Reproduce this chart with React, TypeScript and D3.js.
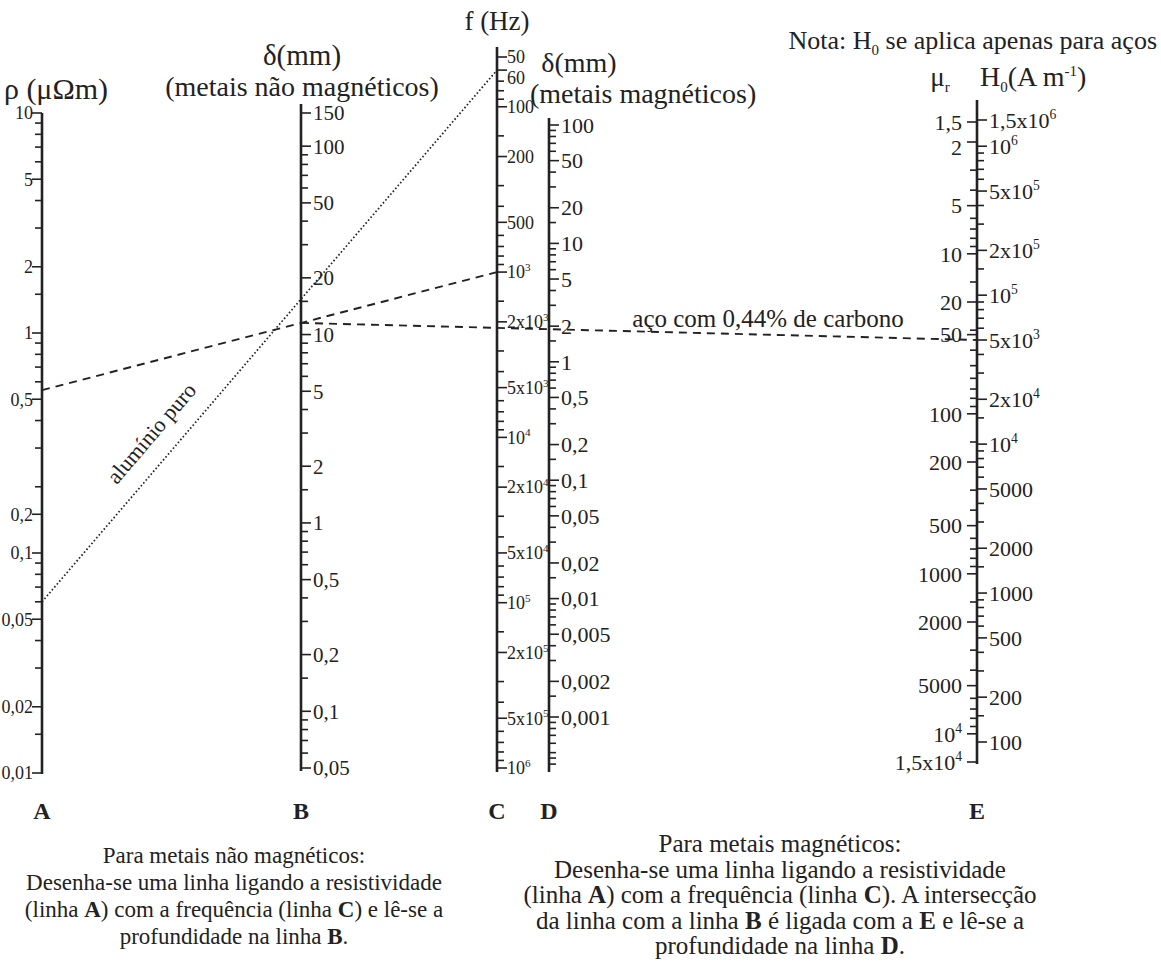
import React from 'react';
import * as d3 from 'd3';

// ---- data ----
const rhoValues = [10, 5, 2, 1, 0.5, 0.15, 0.1, 0.05, 0.02, 0.01];
const rhoLabels = ['10', '5', '2', '1', '0,5', '0,2', '0,1', '0,05', '0,02', '0,01'];

const deltaNmValues = [150, 100, 50, 20, 10, 5, 2, 1, 0.5, 0.2, 0.1, 0.05];
const deltaNmLabels = ['150', '100', '50', '20', '10', '5', '2', '1', '0,5', '0,2', '0,1', '0,05'];

const freqValues = [50, 60, 100, 200, 500, 1e3, 2e3, 5e3, 1e4, 2e4, 5e4, 1e5, 2e5, 5e5, 1e6];
const freqLabels = ['50', '60', '100', '200', '500', '10^3', '2x10^3', '5x10^3', '10^4', '2x10^4', '5x10^4', '10^5', '2x10^5', '5x10^5', '10^6'];

const deltaMValues = [100, 50, 20, 10, 5, 2, 1, 0.5, 0.2, 0.1, 0.05, 0.02, 0.01, 0.005, 0.002, 0.001];
const deltaMLabels = ['100', '50', '20', '10', '5', '2', '1', '0,5', '0,2', '0,1', '0,05', '0,02', '0,01', '0,005', '0,002', '0,001'];
const deltaMTail = [0.0009, 0.0008, 0.0007, 0.0006, 0.0005, 0.00045, 0.0004];

const muValues = [1.5, 2, 5, 10, 20, 32, 100, 200, 500, 1000, 2000, 5000, 1e4, 1.5e4];
const muLabels = ['1,5', '2', '5', '10', '20', '50', '100', '200', '500', '1000', '2000', '5000', '10^4', '1,5x10^4'];

const h0Values = [1.5e6, 1e6, 5e5, 2e5, 1e5, 5e4, 2e4, 1e4, 5000, 2000, 1000, 500, 200, 100];
const h0Labels = ['1,5x10^6', '10^6', '5x10^5', '2x10^5', '10^5', '5x10^3', '2x10^4', '10^4', '5000', '2000', '1000', '500', '200', '100'];

// worked examples
const aluminio = { rho: 0.06, f: 60 };
const aco = { rho: 0.55, f: 1000, h0: 5e4 };

const leftNote = [
  [['Para metais não magnéticos:', false]],
  [['Desenha-se uma linha ligando a resistividade', false]],
  [['(linha ', false], ['A', true], [') com a frequência (linha ', false], ['C', true], [') e lê-se a', false]],
  [['profundidade na linha ', false], ['B', true], ['.', false]],
];
const rightNote = [
  [['Para metais magnéticos:', false]],
  [['Desenha-se uma linha ligando a resistividade', false]],
  [['(linha ', false], ['A', true], [') com a frequência (linha ', false], ['C', true], ['). A intersecção', false]],
  [['da linha com a linha ', false], ['B', true], [' é ligada com a ', false], ['E', true], [' e lê-se a', false]],
  [['profundidade na linha ', false], ['D', true], ['.', false]],
];

const FONT = '"Liberation Serif", "DejaVu Serif", serif';
const INK = '#222';

const xA = 42, xB = 301, xC = 497, xD = 549, xE = 977;

const sA = d3.scaleLog().domain([0.01, 10]).range([773, 113]);
const sB = d3.scaleLog().domain([0.05, 150]).range([768, 113]);
const sC = d3.scaleLog().domain([50, 1e6]).range([57, 768]);
const sD = d3.scaleLog().domain([0.001, 100]).range([717, 125]);
const sMu = d3.scaleLog().domain([1.5, 1.5e4]).range([122, 762]);
const sH = d3.scaleLog().domain([100, 1.5e6]).range([742, 120]);

const MULT = [1, 1.5, 2, 3, 4, 5, 6, 7, 8, 9];
function minorTicks(lo: number, hi: number, majors: number[]) {
  const out: number[] = [];
  for (let k = Math.floor(Math.log10(lo)); k <= Math.ceil(Math.log10(hi)); k++) {
    MULT.forEach((m) => {
      const v = +(m * Math.pow(10, k)).toPrecision(6);
      if (v >= lo * 0.999 && v <= hi * 1.001 && !majors.some((M) => Math.abs(M - v) / v < 1e-6)) out.push(v);
    });
  }
  return out;
}

function Label({ text, x, y, anchor, size }: any) {
  const [base, sup] = text.split('^');
  return (
    <text x={x} y={y} dy="0.35em" textAnchor={anchor} fontSize={size} fontFamily={FONT} fill={INK}>
      {base}
      {sup && (
        <tspan dy={-size * 0.4} fontSize={size * 0.62}>
          {sup}
        </tspan>
      )}
    </text>
  );
}

function Axis({ x, scale, majors, labels, side, minors, y0, y1, size, gap = 12 }: any) {
  const dir = side === 'left' ? -1 : 1;
  // keep labels from piling onto each other where ticks are close
  let prev = -Infinity;
  const labelY = majors.map((v: number) => {
    const y = Math.max(scale(v), prev + size * 1.15);
    prev = y;
    return y;
  });
  return (
    <g>
      {y0 !== undefined && <line x1={x} x2={x} y1={y0} y2={y1} stroke={INK} strokeWidth={2.6} />}
      {minors.map((v: number, i: number) => (
        <line key={'m' + i} x1={x} x2={x + dir * 7} y1={scale(v)} y2={scale(v)} stroke={INK} strokeWidth={1.6} />
      ))}
      {majors.map((v: number, i: number) => (
        <g key={'M' + i}>
          <line x1={x} x2={x + dir * 10} y1={scale(v)} y2={scale(v)} stroke={INK} strokeWidth={1.6} />
          <Label text={labels[i]} x={x + dir * gap} y={labelY[i]} anchor={side === 'left' ? 'end' : 'start'} size={size} />
        </g>
      ))}
    </g>
  );
}

function Note({ lines, cx, y0, step, size }: any) {
  return (
    <g>
      {lines.map((segs: any[], i: number) => (
        <text key={i} x={cx} y={y0 + i * step} textAnchor="middle" fontSize={size} fontFamily={FONT} fill={INK}>
          {segs.map((s, j) => (
            <tspan key={j} fontWeight={s[1] ? 'bold' : 'normal'}>
              {s[0]}
            </tspan>
          ))}
        </text>
      ))}
    </g>
  );
}

export default function App() {
  // aluminium line: A -> C
  const al = { x1: xA, y1: sA(aluminio.rho), x2: xC, y2: sC(aluminio.f) };
  // steel: A -> C, then from the crossing on B over to E
  const st = { x1: xA, y1: sA(aco.rho), x2: xC, y2: sC(aco.f) };
  const yBcross = st.y1 + ((xB - xA) / (xC - xA)) * (st.y2 - st.y1);
  const yE = sH(aco.h0);
  const alAngle = (Math.atan2(al.y2 - al.y1, al.x2 - al.x1) * 180) / Math.PI;

  const letters = [['A', xA], ['B', xB], ['C', xC], ['D', xD], ['E', xE]];

  return (
    <svg width={1161} height={962} style={{ position: 'absolute', left: 0, top: 0, background: '#fff' }}>
      <rect width={1161} height={962} fill="#fff" />

      {/* titles */}
      <g fontFamily={FONT} fill={INK}>
        <text x={56} y={99} textAnchor="middle" fontSize={30}>ρ (μΩm)</text>
        <text x={302} y={65} textAnchor="middle" fontSize={29}>δ(mm)</text>
        <text x={302} y={96} textAnchor="middle" fontSize={28}>(metais não magnéticos)</text>
        <text x={497} y={30} textAnchor="middle" fontSize={27}>f (Hz)</text>
        <text x={579} y={72} textAnchor="middle" fontSize={28}>δ(mm)</text>
        <text x={530} y={103} fontSize={28}>(metais magnéticos)</text>
        <text x={1157} y={49} textAnchor="end" fontSize={26}>
          Nota: H<tspan dy={6} fontSize={15}>0</tspan>
          <tspan dy={-6}> se aplica apenas para aços</tspan>
        </text>
        <text x={940} y={86} textAnchor="middle" fontSize={27}>
          μ<tspan dy={6} fontSize={15}>r</tspan>
        </text>
        <text x={980} y={86} fontSize={28}>
          H<tspan dy={6} fontSize={15}>0</tspan>
          <tspan dy={-6}>(A m</tspan>
          <tspan dy={-10} fontSize={15}>-1</tspan>
          <tspan dy={10}>)</tspan>
        </text>
      </g>

      <Axis x={xA} scale={sA} majors={rhoValues} labels={rhoLabels} side="left" y0={113} y1={774}
        minors={minorTicks(0.01, 10, rhoValues)} size={18} gap={9} />
      <Axis x={xB} scale={sB} majors={deltaNmValues} labels={deltaNmLabels} side="right" y0={104} y1={771}
        minors={minorTicks(0.05, 150, deltaNmValues)} size={21} />
      <Axis x={xC} scale={sC} majors={freqValues} labels={freqLabels} side="right" y0={47} y1={772}
        minors={minorTicks(50, 1e6, freqValues)} size={18} gap={10} />
      <Axis x={xD} scale={sD} majors={deltaMValues} labels={deltaMLabels} side="right" y0={118} y1={772}
        minors={minorTicks(0.001, 100, deltaMValues).concat(deltaMTail)} size={22} />
      <Axis x={xE} scale={sMu} majors={muValues} labels={muLabels} side="left" y0={100} y1={764}
        minors={minorTicks(1.5, 1.5e4, muValues)} size={22} gap={15} />
      <Axis x={xE} scale={sH} majors={h0Values} labels={h0Labels} side="right"
        minors={minorTicks(100, 1.5e6, h0Values)} size={22} />

      {/* axis letters */}
      {letters.map(([t, x]: any) => (
        <text key={t} x={x} y={819} textAnchor="middle" fontSize={24} fontWeight="bold" fontFamily={FONT} fill={INK}>
          {t}
        </text>
      ))}

      {/* example lines */}
      <line x1={al.x1} y1={al.y1} x2={al.x2} y2={al.y2} stroke={INK} strokeWidth={1.7} strokeDasharray="1.6,2.2" />
      <line x1={st.x1} y1={st.y1} x2={st.x2} y2={st.y2} stroke={INK} strokeWidth={1.9} strokeDasharray="8,6" />
      <line x1={xB} y1={yBcross} x2={xE} y2={yE} stroke={INK} strokeWidth={1.9} strokeDasharray="8,6" />

      <text x={157} y={438} textAnchor="middle" fontSize={22} fontFamily={FONT} fill={INK}
        transform={`rotate(${alAngle} 157 438)`}>
        alumínio puro
      </text>
      <text x={768} y={327} textAnchor="middle" fontSize={25} fontFamily={FONT} fill={INK}>
        aço com 0,44% de carbono
      </text>

      <Note lines={leftNote} cx={234} y0={863} step={27} size={23} />
      <Note lines={rightNote} cx={780} y0={852} step={25.5} size={25} />
    </svg>
  );
}
